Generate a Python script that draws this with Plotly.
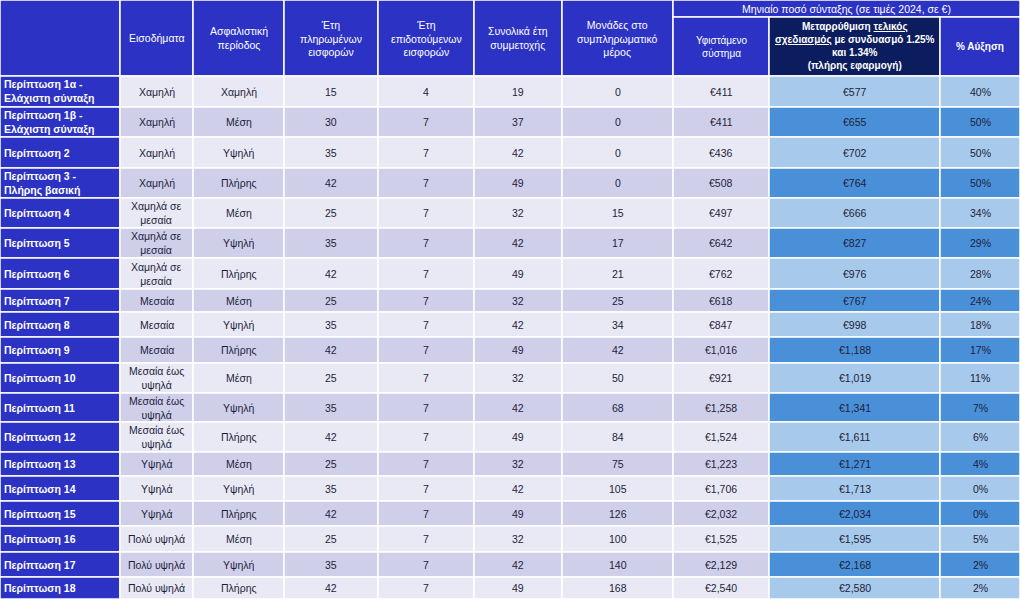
import plotly.graph_objects as go

cases = ["Περίπτωση 1α -<br>Ελάχιστη σύνταξη", "Περίπτωση 1β -<br>Ελάχιστη σύνταξη", "Περίπτωση 2",
         "Περίπτωση 3 -<br>Πλήρης βασική", "Περίπτωση 4", "Περίπτωση 5", "Περίπτωση 6", "Περίπτωση 7",
         "Περίπτωση 8", "Περίπτωση 9", "Περίπτωση 10", "Περίπτωση 11", "Περίπτωση 12", "Περίπτωση 13",
         "Περίπτωση 14", "Περίπτωση 15", "Περίπτωση 16", "Περίπτωση 17", "Περίπτωση 18"]
income = ["Χαμηλή", "Χαμηλή", "Χαμηλή", "Χαμηλή", "Χαμηλά σε<br>μεσαία", "Χαμηλά σε<br>μεσαία",
          "Χαμηλά σε<br>μεσαία", "Μεσαία", "Μεσαία", "Μεσαία", "Μεσαία έως<br>υψηλά", "Μεσαία έως<br>υψηλά",
          "Μεσαία έως<br>υψηλά", "Υψηλά", "Υψηλά", "Υψηλά", "Πολύ υψηλά", "Πολύ υψηλά", "Πολύ υψηλά"]
period = ["Χαμηλή", "Μέση", "Υψηλή", "Πλήρης", "Μέση", "Υψηλή", "Πλήρης", "Μέση", "Υψηλή", "Πλήρης",
          "Μέση", "Υψηλή", "Πλήρης", "Μέση", "Υψηλή", "Πλήρης", "Μέση", "Υψηλή", "Πλήρης"]
paid_years = [15, 30, 35, 42, 25, 35, 42, 25, 35, 42, 25, 35, 42, 25, 35, 42, 25, 35, 42]
credited_years = [4, 7, 7, 7, 7, 7, 7, 7, 7, 7, 7, 7, 7, 7, 7, 7, 7, 7, 7]
total_years = [19, 37, 42, 49, 32, 42, 49, 32, 42, 49, 32, 42, 49, 32, 42, 49, 32, 42, 49]
points = [0, 0, 0, 0, 15, 17, 21, 25, 34, 42, 50, 68, 84, 75, 105, 126, 100, 140, 168]
current = [411, 411, 436, 508, 497, 642, 762, 618, 847, 1016, 921, 1258, 1524, 1223, 1706, 2032, 1525, 2129, 2540]
reform = [577, 655, 702, 764, 666, 827, 976, 767, 998, 1188, 1019, 1341, 1611, 1271, 1713, 2034, 1595, 2168, 2580]
increase = [40, 50, 50, 50, 34, 29, 28, 24, 18, 17, 11, 7, 6, 4, 0, 0, 5, 2, 2]

headers = ["", "Εισοδήματα", "Ασφαλιστική<br>περίοδος", "Έτη<br>πληρωμένων<br>εισφορών",
           "Έτη<br>επιδοτούμενων<br>εισφορών", "Συνολικά έτη<br>συμμετοχής",
           "Μονάδες στο<br>συμπληρωματικό<br>μέρος", "Υφιστάμενο<br>σύστημα",
           "Μεταρρύθμιση <u>τελικός</u><br><u>σχεδιασμός</u> με συνδυασμό 1.25%<br>και 1.34%<br>(πλήρης εφαρμογή)",
           "% Αύξηση"]
top_header = "Μηνιαίο ποσό σύνταξης (σε τιμές 2024, σε €)"

xb = [0, 120, 193, 284, 378, 474, 562, 673, 769, 940, 1020]
row_h = [31, 30, 31, 30, 30, 30, 31, 23, 25, 26, 30, 29, 30, 24, 25, 25, 26, 25, 22]
H0, H1 = 17, 76
W, Hfig = 1020, 599

BLUE = "#2B32C4"; NAVY = "#0B1D5E"
L1, L2 = "#E9E9F5", "#CFCFEA"
R1, R2 = "#A7C9EB", "#4A90D9"
TXT = "#1E1E3A"
FONT = "Liberation Sans"

shapes, ann = [], []
def cell(x0, x1, y0, y1, color):
    shapes.append(dict(type="rect", xref="x", yref="y", x0=x0, x1=x1, y0=y0, y1=y1,
                       fillcolor=color, line=dict(color="white", width=1.5), layer="below"))
def text(x0, x1, y0, y1, t, color=TXT, bold=False, align="center", size=10.5):
    if bold:
        t = "<b>" + t + "</b>"
    ann.append(dict(x=(x0 + x1) / 2 if align == "center" else x0 + 2, y=(y0 + y1) / 2, text=t,
                    xanchor="center" if align == "center" else "left", yanchor="middle",
                    showarrow=False, align=align, font=dict(family=FONT, size=size, color=color)))

for c in range(7):
    cell(xb[c], xb[c + 1], 0, H1, BLUE)
    text(xb[c], xb[c + 1], 0, H1, headers[c], "white")
cell(xb[7], xb[10], 0, H0, BLUE)
text(xb[7], xb[10], 0, H0, top_header, "white")
for c in range(7, 10):
    cell(xb[c], xb[c + 1], H0, H1, NAVY if c == 8 else BLUE)
    text(xb[c], xb[c + 1], H0, H1, headers[c], "white", bold=(c == 8 or c == 9), size=10)

y = H1
for i in range(len(cases)):
    y0, y1 = y, y + row_h[i]
    even = i % 2 == 0
    vals = [income[i], period[i], str(paid_years[i]), str(credited_years[i]), str(total_years[i]),
            str(points[i]), f"€{current[i]:,}", f"€{reform[i]:,}", f"{increase[i]}%"]
    cell(xb[0], xb[1], y0, y1, BLUE)
    text(xb[0], xb[1], y0, y1, cases[i], "white", bold=True, align="left")
    for c in range(1, 10):
        col = (R1 if even else R2) if c >= 8 else (L1 if even else L2)
        cell(xb[c], xb[c + 1], y0, y1, col)
        text(xb[c], xb[c + 1], y0, y1, vals[c - 1])
    y = y1

fig = go.Figure()
fig.add_trace(go.Scatter(x=[0, W], y=[0, Hfig], mode="markers", marker=dict(opacity=0), hoverinfo="skip"))
fig.update_layout(width=W, height=Hfig, margin=dict(l=0, r=0, t=0, b=0), showlegend=False,
                  plot_bgcolor="white", paper_bgcolor="white", shapes=shapes, annotations=ann,
                  xaxis=dict(range=[0, W], visible=False, fixedrange=True),
                  yaxis=dict(range=[Hfig, 0], visible=False, fixedrange=True))
fig.write_html("out.html", config={"displayModeBar": False},
               post_script="document.body.style.margin='0';document.body.style.overflow='hidden';")
